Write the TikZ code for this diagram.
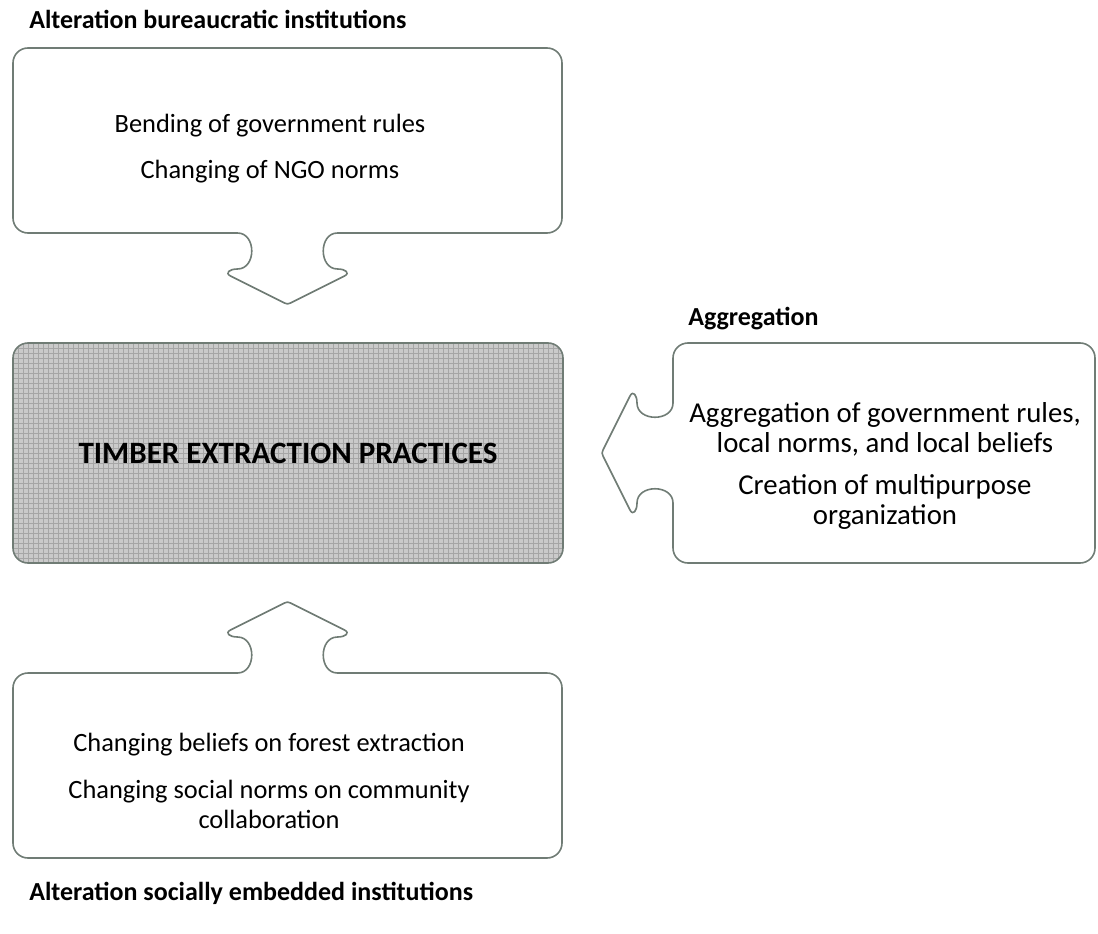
\documentclass[tikz,border=0pt]{standalone}
\usepackage{fontspec}
\setmainfont{Carlito}
\definecolor{linegray}{RGB}{112,124,117}
\definecolor{gridbg}{RGB}{202,202,202}
\definecolor{gridline}{RGB}{166,166,166}
% Outline of a rounded box with an arrow callout, in a local frame:
% the box lies at u in [-#2,0], v in [-#1,#1]; the arrow points to +u.
\newcommand{\calloutpath}[2]{%
 ({-#1},{-#2+15}) .. controls ({-#1},{-#2+6.7}) and ({-#1+6.7},{-#2}) .. ({-#1+15},{-#2})
 -- ({#1-15},{-#2}) .. controls ({#1-6.7},{-#2}) and ({#1},{-#2+6.7}) .. ({#1},{-#2+15})
 -- ({#1},-15) .. controls ({#1},-6.7) and ({#1-6.7},0) .. ({#1-15},0)
 -- (50,0) .. controls (31,0) and (31,36) .. (50,36)
 .. controls (58,36) and (63,40) .. (57,43)
 -- (3,70) .. controls (1,71.2) and (-1,71.2) .. (-3,70)
 -- (-57,43) .. controls (-63,40) and (-58,36) .. (-50,36)
 .. controls (-31,36) and (-31,0) .. (-50,0)
 -- ({-#1+15},0) .. controls ({-#1+6.7},0) and ({-#1},-6.7) .. ({-#1},-15)
 -- cycle}
\begin{document}
\begin{tikzpicture}[x=0.75pt,y=-0.75pt,
  outline/.style={draw=linegray, line width=1.2pt, line join=round},
  bodytext/.style={font=\fontsize{19.8}{22.5}\selectfont, align=center, inner sep=0pt, anchor=base},
  sidetext/.style={font=\fontsize{21.6}{22.5}\selectfont, align=center, inner sep=0pt, anchor=base},
  headtext/.style={font=\fontsize{19.5}{22}\selectfont\bfseries, inner sep=0pt, anchor=base west},
  centerbox/.style={draw=linegray, line width=1.2pt, rounded corners=11.25pt,
    minimum width=412.5pt, minimum height=165pt, inner sep=0pt,
    font=\fontsize{23.3}{26}\selectfont\bfseries,
    path picture={
      \fill[gridbg] (path picture bounding box.south west) rectangle (path picture bounding box.north east);
      \draw[gridline, line width=0.45pt, step=3.75pt] (path picture bounding box.south west) grid (path picture bounding box.north east);
    }}
]
\useasboundingbox (0,0) rectangle (1098,934);

% callout boxes
\begin{scope}[shift={(287.5,233)}]
  \draw[outline] \calloutpath{274.5}{185};
\end{scope}
\begin{scope}[shift={(287.5,673)}, yscale=-1]
  \draw[outline] \calloutpath{274.5}{185};
\end{scope}
\begin{scope}[shift={(673,453)}, x={(0pt,-0.75pt)}, y={(-0.75pt,0pt)}]
  \draw[outline] \calloutpath{110}{422};
\end{scope}

% central box
\node[centerbox] (core) at (288,453) {TIMBER EXTRACTION PRACTICES};

% headings
\node[headtext] (t1) at (29,29) {Alteration bureaucratic institutions};
\node[headtext] (t2) at (688,325) {Aggregation};
\node[headtext] (t3) at (29,900) {Alteration socially embedded institutions};

% box contents (base anchor = baseline of the last line)
\node[bodytext] (a1) at (270,133) {Bending of government rules};
\node[bodytext] (a2) at (270,179) {Changing of NGO norms};
\node[sidetext] (b1) at (885,452) {Aggregation of government rules,\\ local norms, and local beliefs};
\node[sidetext] (b2) at (885,524) {Creation of multipurpose\\ organization};
\node[bodytext] (c1) at (269,751) {Changing beliefs on forest extraction};
\node[bodytext] (c2) at (269,828) {Changing social norms on community\\ collaboration};
\end{tikzpicture}
\end{document}
